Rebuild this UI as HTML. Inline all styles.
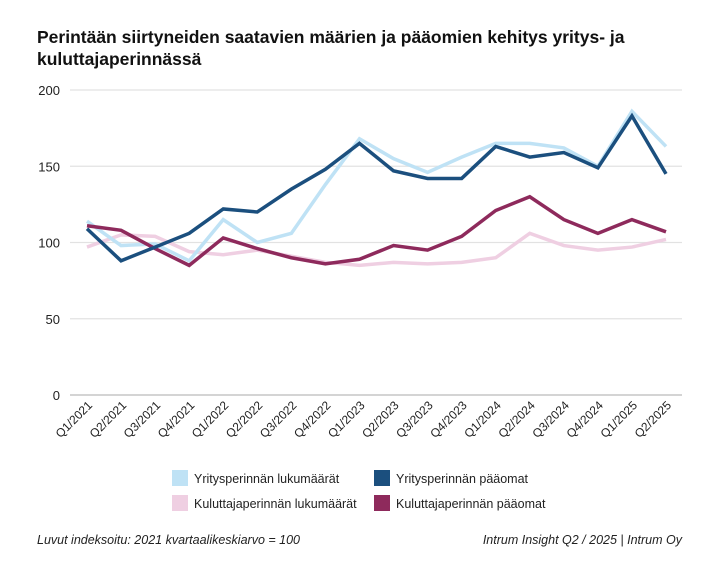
<!DOCTYPE html>
<html><head><meta charset="utf-8"><style>
body{margin:0;background:#fff;font-family:"Liberation Sans",sans-serif;}
#wrap{position:relative;width:720px;height:576px;overflow:hidden}
.t{position:absolute;left:37px;top:26px;font-size:17.5px;font-weight:bold;color:#111;line-height:22px;width:640px}
.f{position:absolute;top:533px;font-size:12.5px;font-style:italic;color:#222}
</style></head><body>
<div id="wrap">
<div class="t">Perintään siirtyneiden saatavien määrien ja pääomien kehitys yritys- ja kuluttajaperinnässä</div>
<svg id="c" width="720" height="576" style="position:absolute;left:0;top:0"></svg>
<div class="f" style="left:37px">Luvut indeksoitu: 2021 kvartaalikeskiarvo = 100</div>
<div class="f" style="right:38px">Intrum Insight Q2 / 2025 | Intrum Oy</div>
</div>
<script>
const categories=["Q1/2021","Q2/2021","Q3/2021","Q4/2021","Q1/2022","Q2/2022","Q3/2022","Q4/2022","Q1/2023","Q2/2023","Q3/2023","Q4/2023","Q1/2024","Q2/2024","Q3/2024","Q4/2024","Q1/2025","Q2/2025"];
const yritysLukumaarat=[114,98,99,88,115,100,106,138,168,155,146,156,165,165,162,150,186,163];
const yritysPaaomat=[109,88,97,106,122,120,135,148,165,147,142,142,163,156,159,149,183,145];
const kuluttajaLukumaarat=[97,105,104,94,92,95,91,87,85,87,86,87,90,106,98,95,97,102];
const kuluttajaPaaomat=[111,108,96,85,103,96,90,86,89,98,95,104,121,130,115,106,115,107];
const yTicks=[0,50,100,150,200];
const NS="http://www.w3.org/2000/svg";
const svg=document.getElementById('c');
const x0=87,x1=666,yTop=90,yBot=395;
const xs=i=>x0+(x1-x0)*i/(categories.length-1);
const ys=v=>yBot-(yBot-yTop)*v/200;
function mk(t,a){const e=document.createElementNS(NS,t);for(const k in a)e.setAttribute(k,a[k]);svg.appendChild(e);return e;}
yTicks.forEach(v=>{
 const l=mk('line',{x1:70,x2:682,y1:ys(v),y2:ys(v),stroke:v===0?'#bbb':'#e2e2e2','stroke-width':1.3});
 
 
 const t=mk('text',{x:60,y:ys(v)+5,'text-anchor':'end','font-size':13,fill:'#222','font-family':'Liberation Sans'});
 t.textContent=v;
 
 
});
categories.forEach((c,i)=>{
 const t=mk('text',{x:xs(i)+6,y:406,'text-anchor':'end','font-size':12,fill:'#222','font-family':'Liberation Sans',transform:`rotate(-45 ${xs(i)+6} 406)`});
 t.textContent=c;
 
 
});
const series=[[kuluttajaLukumaarat,'#efcfe2','kuluttaja-lukumaarat'],[yritysLukumaarat,'#bfe2f5','yritys-lukumaarat'],[kuluttajaPaaomat,'#8e2a5c','kuluttaja-paaomat'],[yritysPaaomat,'#1b4f7e','yritys-paaomat']];
series.forEach(([d,col,n])=>{
 const p=mk('polyline',{points:d.map((v,i)=>xs(i)+','+ys(v)).join(' '),fill:'none',stroke:col,'stroke-width':3.5,'stroke-linejoin':'miter'});
 
 
});
const legend=[[172,478,'#bfe2f5','Yritysperinnän lukumäärät'],[374,478,'#1b4f7e','Yritysperinnän pääomat'],[172,503,'#efcfe2','Kuluttajaperinnän lukumäärät'],[374,503,'#8e2a5c','Kuluttajaperinnän pääomat']];
legend.forEach(([x,y,col,txt])=>{
 const r=mk('rect',{x:x,y:y-8,width:16,height:16,fill:col});
 
 
 const t=mk('text',{x:x+22,y:y+5,'font-size':12.5,fill:'#222','font-family':'Liberation Sans'});
 t.textContent=txt;
 
 
});
</script>
</body></html>
